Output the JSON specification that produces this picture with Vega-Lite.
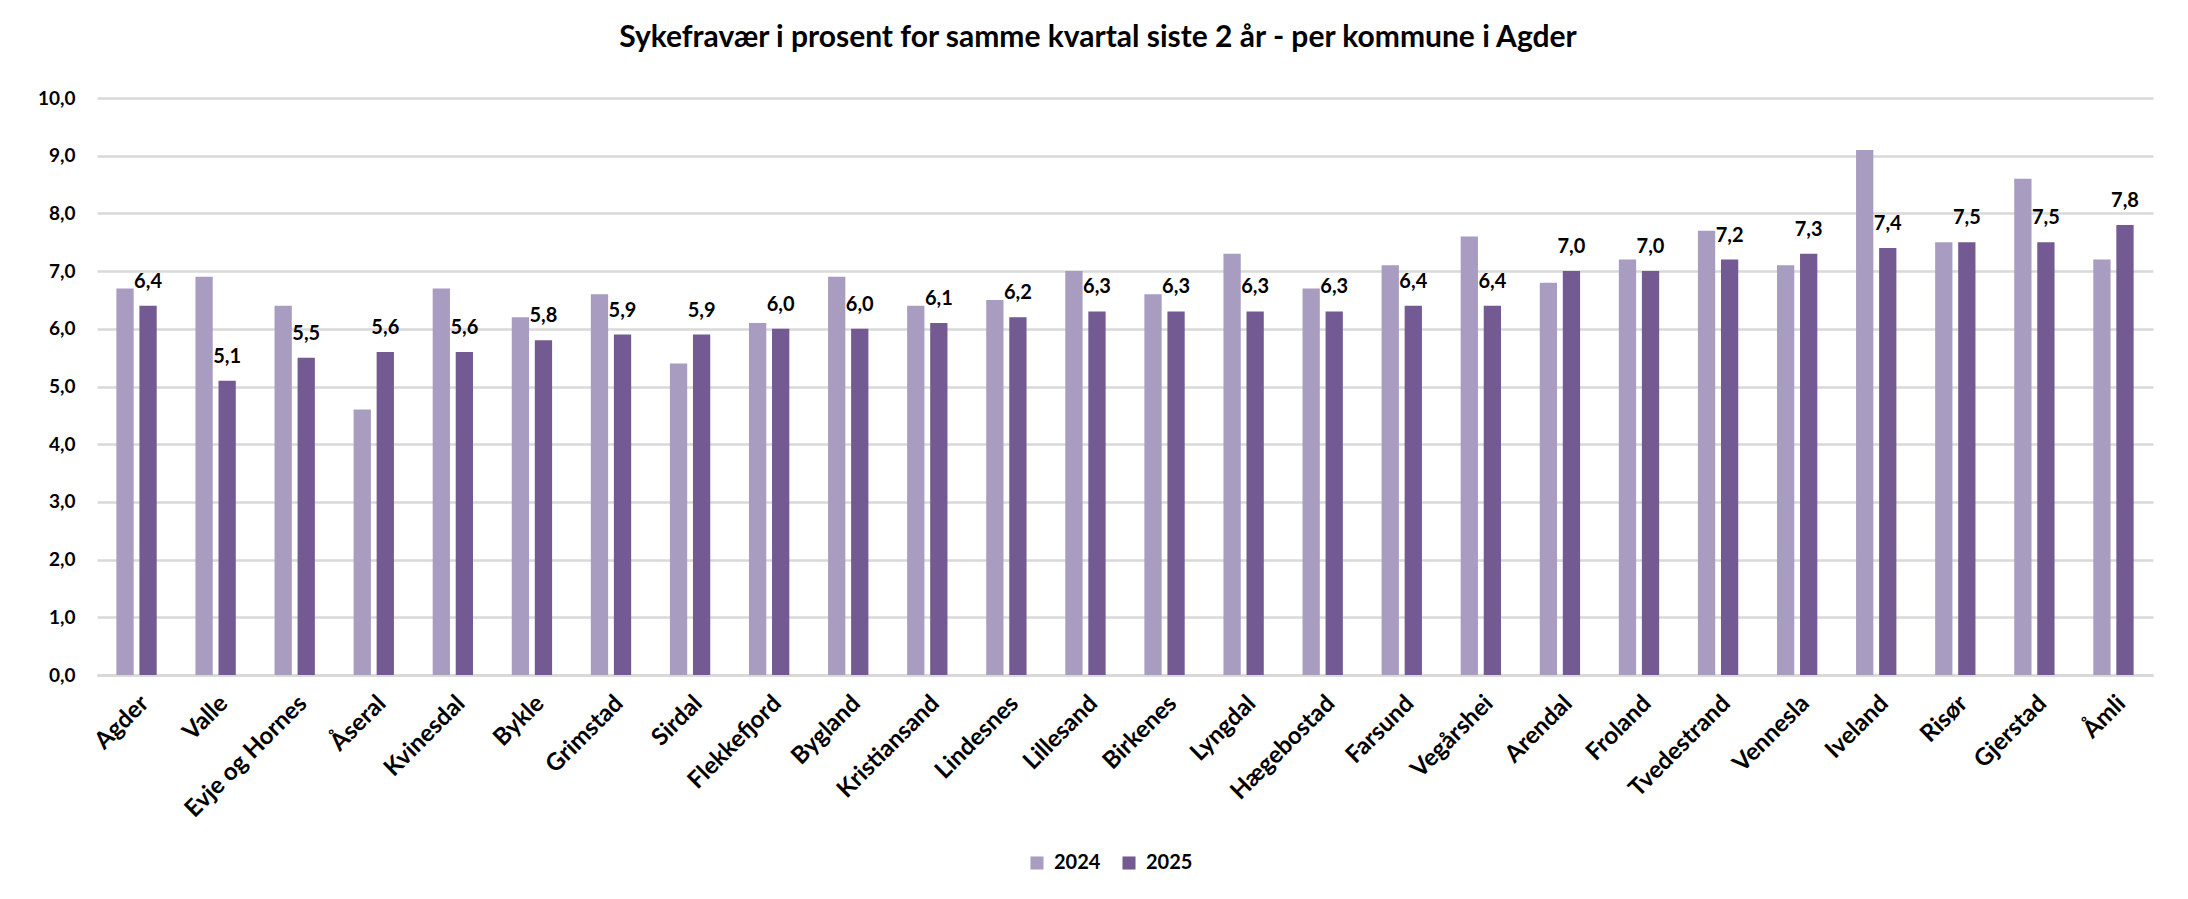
{
  "$schema": "https://vega.github.io/schema/vega-lite/v6.json",
  "width": 2056,
  "height": 577,
  "autosize": {"type": "none"},
  "padding": {"left": 97, "top": 98, "right": 35, "bottom": 224},
  "background": "white",
  "title": {
    "text": "Sykefravær i prosent for samme kvartal siste 2 år - per kommune i Agder",
    "font": "Lato",
    "fontSize": 30,
    "fontWeight": "bold",
    "color": "#000000",
    "anchor": "middle",
    "dx": -27,
    "offset": 36
  },
  "config": {
    "locale": {"number": {"decimal": ",", "thousands": " ", "grouping": [3], "currency": ["", " kr"]}},
    "view": {"stroke": null},
    "font": "Lato"
  },
  "data": {
    "values": [
      {"kommune": "Agder", "year": "2024", "value": 6.7},
      {"kommune": "Agder", "year": "2025", "value": 6.4},
      {"kommune": "Valle", "year": "2024", "value": 6.9},
      {"kommune": "Valle", "year": "2025", "value": 5.1},
      {"kommune": "Evje og Hornes", "year": "2024", "value": 6.4},
      {"kommune": "Evje og Hornes", "year": "2025", "value": 5.5},
      {"kommune": "Åseral", "year": "2024", "value": 4.6},
      {"kommune": "Åseral", "year": "2025", "value": 5.6},
      {"kommune": "Kvinesdal", "year": "2024", "value": 6.7},
      {"kommune": "Kvinesdal", "year": "2025", "value": 5.6},
      {"kommune": "Bykle", "year": "2024", "value": 6.2},
      {"kommune": "Bykle", "year": "2025", "value": 5.8},
      {"kommune": "Grimstad", "year": "2024", "value": 6.6},
      {"kommune": "Grimstad", "year": "2025", "value": 5.9},
      {"kommune": "Sirdal", "year": "2024", "value": 5.4},
      {"kommune": "Sirdal", "year": "2025", "value": 5.9},
      {"kommune": "Flekkefjord", "year": "2024", "value": 6.1},
      {"kommune": "Flekkefjord", "year": "2025", "value": 6.0},
      {"kommune": "Bygland", "year": "2024", "value": 6.9},
      {"kommune": "Bygland", "year": "2025", "value": 6.0},
      {"kommune": "Kristiansand", "year": "2024", "value": 6.4},
      {"kommune": "Kristiansand", "year": "2025", "value": 6.1},
      {"kommune": "Lindesnes", "year": "2024", "value": 6.5},
      {"kommune": "Lindesnes", "year": "2025", "value": 6.2},
      {"kommune": "Lillesand", "year": "2024", "value": 7.0},
      {"kommune": "Lillesand", "year": "2025", "value": 6.3},
      {"kommune": "Birkenes", "year": "2024", "value": 6.6},
      {"kommune": "Birkenes", "year": "2025", "value": 6.3},
      {"kommune": "Lyngdal", "year": "2024", "value": 7.3},
      {"kommune": "Lyngdal", "year": "2025", "value": 6.3},
      {"kommune": "Hægebostad", "year": "2024", "value": 6.7},
      {"kommune": "Hægebostad", "year": "2025", "value": 6.3},
      {"kommune": "Farsund", "year": "2024", "value": 7.1},
      {"kommune": "Farsund", "year": "2025", "value": 6.4},
      {"kommune": "Vegårshei", "year": "2024", "value": 7.6},
      {"kommune": "Vegårshei", "year": "2025", "value": 6.4},
      {"kommune": "Arendal", "year": "2024", "value": 6.8},
      {"kommune": "Arendal", "year": "2025", "value": 7.0},
      {"kommune": "Froland", "year": "2024", "value": 7.2},
      {"kommune": "Froland", "year": "2025", "value": 7.0},
      {"kommune": "Tvedestrand", "year": "2024", "value": 7.7},
      {"kommune": "Tvedestrand", "year": "2025", "value": 7.2},
      {"kommune": "Vennesla", "year": "2024", "value": 7.1},
      {"kommune": "Vennesla", "year": "2025", "value": 7.3},
      {"kommune": "Iveland", "year": "2024", "value": 9.1},
      {"kommune": "Iveland", "year": "2025", "value": 7.4},
      {"kommune": "Risør", "year": "2024", "value": 7.5},
      {"kommune": "Risør", "year": "2025", "value": 7.5},
      {"kommune": "Gjerstad", "year": "2024", "value": 8.6},
      {"kommune": "Gjerstad", "year": "2025", "value": 7.5},
      {"kommune": "Åmli", "year": "2024", "value": 7.2},
      {"kommune": "Åmli", "year": "2025", "value": 7.8}
    ]
  },
  "encoding": {
    "x": {
      "field": "kommune",
      "type": "nominal",
      "sort": null,
      "scale": {"paddingInner": 0.49, "paddingOuter": 0.245},
      "axis": {
        "title": null,
        "labelAngle": -45,
        "labelFont": "Lato",
        "labelFontSize": 24,
        "labelFontWeight": "bold",
        "labelColor": "#000000",
        "labelPadding": 16,
        "labelOverlap": false,
        "ticks": false,
        "domainColor": "#d9d9d9",
        "domainWidth": 3
      }
    },
    "xOffset": {
      "field": "year",
      "type": "nominal",
      "scale": {"domain": ["2024", "2025"], "paddingInner": 0.25}
    },
    "y": {
      "field": "value",
      "type": "quantitative",
      "scale": {"domain": [0, 10], "nice": false},
      "axis": {
        "title": null,
        "values": [0, 1, 2, 3, 4, 5, 6, 7, 8, 9, 10],
        "format": ".1f",
        "labelFont": "Lato",
        "labelFontSize": 19,
        "labelFontWeight": "bold",
        "labelColor": "#000000",
        "labelPadding": 22,
        "labelOverlap": false,
        "ticks": false,
        "domain": false,
        "gridColor": "#d9d9d9",
        "gridWidth": 2.5
      }
    }
  },
  "layer": [
    {
      "mark": {"type": "bar"},
      "encoding": {
        "color": {
          "field": "year",
          "type": "nominal",
          "scale": {"domain": ["2024", "2025"], "range": ["#A99CC1", "#735A92"]},
          "legend": {
            "title": null,
            "orient": "none",
            "direction": "horizontal",
            "legendX": 930,
            "legendY": 755,
            "symbolType": "square",
            "symbolSize": 170,
            "symbolStrokeWidth": 0,
            "labelFont": "Lato",
            "labelFontSize": 20,
            "labelFontWeight": "bold",
            "labelColor": "#000000",
            "labelOffset": 7,
            "columnPadding": 18
          }
        }
      }
    },
    {
      "transform": [{"filter": "datum.year == '2025'"}],
      "mark": {"type": "text", "baseline": "alphabetic", "dy": -18, "font": "Lato", "fontSize": 20, "fontWeight": "bold", "color": "#000000"},
      "encoding": {
        "text": {"field": "value", "type": "quantitative", "format": ".1f"}
      }
    }
  ]
}
